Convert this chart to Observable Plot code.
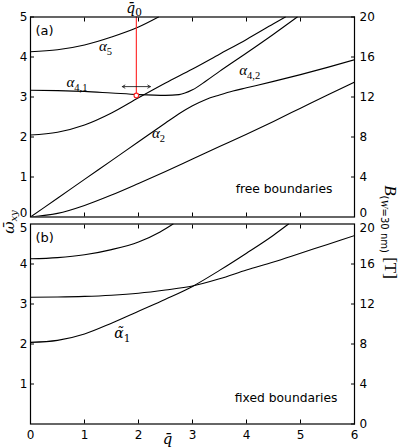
<!DOCTYPE html>
<html><head><meta charset="utf-8">
<script src="https://cdn.jsdelivr.net/npm/d3@7"></script>
<script src="https://cdn.jsdelivr.net/npm/@observablehq/plot@0.6"></script>
<style>
body{margin:0;background:#fff;}
#wrap{position:relative;width:399px;height:448px;overflow:hidden;font-family:"DejaVu Sans";}
#wrap svg{position:absolute;left:0;overflow:visible;}
.lab{position:absolute;white-space:nowrap;font-family:"Liberation Serif";color:#000;line-height:1;}
</style></head><body><div id="wrap"></div>
<script>
// ---- ticks ----
const qTicks = [0,1,2,3,4,5,6];
const wTicksTop = [0,1,2,3,4,5];
const wTicksBottom = [1,2,3,4,5];
const bTicks = [0,4,8,12,16,20];
const teslaPerUnit = 4;

// ---- (a) free boundaries ----
const freeLowQ = [0,0.5,1,1.5,2,2.5,3,3.5,4,4.5,5,5.5,6];
const freeLowW = [0,0.09,0.29,0.55,0.84,1.14,1.45,1.76,2.07,2.39,2.72,3.05,3.37];
const freeA2Q = [0,0.5,1,1.5,2,2.5,2.75,3,3.25,3.5,3.75,4,4.5,5,5.5,6];
const freeA2W = [0,0.47,0.94,1.41,1.88,2.35,2.58,2.78,2.94,3.05,3.15,3.23,3.39,3.56,3.74,3.93];
const freeA3Q = [0,0.5,1,1.5,2,2.5,3,3.5,4,4.5,4.72];
const freeA3W = [2.05,2.12,2.3,2.6,2.98,3.35,3.7,4.07,4.44,4.83,5.0];
const freeA4Q = [0,0.5,1,1.5,2,2.5,2.75,3,3.25,3.5,4,4.5,4.94];
const freeA4W = [3.17,3.16,3.14,3.1,3.06,3.04,3.06,3.18,3.40,3.64,4.1,4.57,5.0];
const freeA5Q = [0,0.5,1,1.5,2,2.37];
const freeA5W = [4.13,4.18,4.3,4.5,4.75,5.0];

// ---- (b) fixed boundaries ----
const fixTopQ = [0,0.5,1,1.5,2,2.4,2.64];
const fixTopW = [4.13,4.16,4.23,4.36,4.55,4.8,5.0];
const fixFlatQ = [0,0.5,1,1.5,2,2.5,3,3.5,4,4.5,5,5.5,6];
const fixFlatW = [3.17,3.175,3.19,3.22,3.27,3.35,3.45,3.63,3.85,4.05,4.27,4.49,4.71];
const fixA1Q = [0,0.5,1,1.5,2,2.5,3,3.5,4,4.5,4.78];
const fixA1W = [2.04,2.09,2.25,2.52,2.82,3.12,3.44,3.84,4.27,4.72,5.0];

// ---- marker ----
const q0 = 1.96, w0 = 3.04;
const arrowEnds = [1.7, 2.22];
const arrowW = 3.26;

const pts = (q, w) => q.map((x, i) => ({q: x, w: w[i]}));
const lineOpts = {x: "q", y: "w", stroke: "#000", strokeWidth: 1.1, curve: "monotone-x", clip: true};

const labelsTop = [
  {q: 1.39, w: 4.26, t: "α|5"},
  {q: 0.86, w: 3.36, t: "α|4,1"},
  {q: 4.06, w: 3.66, t: "α|4,2"},
  {q: 2.37, w: 2.09, t: "α|2"}
];
const labelsBottom = [
  {q: 1.7, w: 2.26, t: "α\u0303|1"}
];

const mathText = (data, font = "Liberation Serif", size = 15) => Plot.text(data, {x: "q", y: "w", text: "t", fontFamily: font, fontStyle: "italic", fontSize: size, lineAnchor: "middle", fill: "#000"});

const style = {fontFamily: "DejaVu Sans", fontSize: "12px", color: "#000", background: "transparent", overflow: "visible"};

const bFmt = d => String(Math.round(d * teslaPerUnit));
const bPos = bTicks.map(b => b / teslaPerUnit);

function axesFor(leftTicks, showX, panel) {
  const edge = panel === "top" ? 0 : 5;
  const leftMain = leftTicks.filter(d => d !== edge);
  const leftEdge = leftTicks.filter(d => d === edge);
  const rightMain = bPos.filter(d => d !== edge);
  const rightEdge = bPos.filter(d => d === edge);
  const edgeDy = panel === "top" ? -4 : 4.5;
  return [
    Plot.frame({stroke: "#000", strokeWidth: 1.2}),
    Plot.axisY(leftMain, {anchor: "left", tickSize: -4, tickPadding: 7, label: null}),
    Plot.axisY(leftEdge, {anchor: "left", tickSize: 0, tickPadding: 3, dy: edgeDy, label: null}),
    Plot.axisY(rightMain, {anchor: "right", tickSize: -4, tickPadding: 9, label: null, tickFormat: bFmt}),
    Plot.axisY(rightEdge, {anchor: "right", tickSize: 0, tickPadding: 5, dy: edgeDy, label: null, tickFormat: bFmt}),
    Plot.axisX(qTicks, {anchor: "bottom", tickSize: -4, tickPadding: 10, label: null, tickFormat: showX ? d => String(d) : () => ""}),
    Plot.axisX(qTicks, {anchor: "top", tickSize: -4, label: null, tickFormat: () => ""})
  ];
}

const topPlot = Plot.plot({
  width: 399, height: 220, marginTop: 16.5, marginBottom: 3.5, marginLeft: 30, marginRight: 45,
  x: {domain: [0, 6]}, y: {domain: [0, 5]}, style,
  marks: [
    Plot.line(pts(freeLowQ, freeLowW), lineOpts),
    Plot.line(pts(freeA2Q, freeA2W), lineOpts),
    Plot.line(pts(freeA3Q, freeA3W), lineOpts),
    Plot.line(pts(freeA4Q, freeA4W), lineOpts),
    Plot.line(pts(freeA5Q, freeA5W), lineOpts),
    Plot.ruleX([q0], {y1: w0, y2: 5, stroke: "#ff2020", strokeWidth: 1.1}),
    Plot.arrow(arrowEnds, {x1: () => q0, x2: d => d, y1: () => arrowW, y2: () => arrowW, headLength: 5, stroke: "#222", strokeWidth: 0.9, inset: 0}),
    Plot.dot([{q: q0, w: w0}], {x: "q", y: "w", r: 2.3, stroke: "#ff2020", fill: "#fff", strokeWidth: 1.1}),
    mathText(labelsTop),
    Plot.text(["q\u0304|0"], {x: q0 - 0.04, frameAnchor: "top", dy: -8.5, text: d => d, fontFamily: "DejaVu Serif", fontStyle: "italic", fontSize: 14, lineAnchor: "middle"}),
    Plot.text(["(a)"], {frameAnchor: "top-left", dx: 5, dy: 14, text: d => d, fontSize: 13, lineAnchor: "middle", textAnchor: "start"}),
    Plot.text(["free boundaries"], {frameAnchor: "bottom-right", dx: -22, dy: -28, text: d => d, fontSize: 12.3, lineAnchor: "middle", textAnchor: "end"}),
    ...axesFor(wTicksTop, false, "top")
  ]
});

const bottomPlot = Plot.plot({
  width: 399, height: 228, marginTop: 3.5, marginBottom: 24.5, marginLeft: 30, marginRight: 45,
  x: {domain: [0, 6]}, y: {domain: [0, 5]}, style,
  marks: [
    Plot.line(pts(fixTopQ, fixTopW), lineOpts),
    Plot.line(pts(fixFlatQ, fixFlatW), lineOpts),
    Plot.line(pts(fixA1Q, fixA1W), lineOpts),
    mathText(labelsBottom, "DejaVu Serif", 14),
    Plot.text(["(b)"], {frameAnchor: "top-left", dx: 5, dy: 14, text: d => d, fontSize: 13, lineAnchor: "middle", textAnchor: "start"}),
    Plot.text(["fixed boundaries"], {frameAnchor: "bottom-right", dx: -17, dy: -25.5, text: d => d, fontSize: 12.3, lineAnchor: "middle", textAnchor: "end"}),
    Plot.text(["q\u0304"], {x: 2.54, frameAnchor: "bottom", dy: 15, text: d => d, fontFamily: "DejaVu Serif", fontStyle: "italic", fontSize: 15, lineAnchor: "middle"}),
    ...axesFor(wTicksBottom, true, "bottom")
  ]
});

function subscriptify(svg) {
  const ns = "http://www.w3.org/2000/svg";
  svg.querySelectorAll("text").forEach(t => {
    const s = t.textContent;
    if (!s.includes("|")) return;
    const [base, sub] = s.split("|");
    t.textContent = "";
    const a = document.createElementNS(ns, "tspan"); a.textContent = base;
    const b = document.createElementNS(ns, "tspan"); b.textContent = sub;
    b.setAttribute("dy", "3.5"); b.setAttribute("font-size", "10.5"); b.setAttribute("font-style", "normal");
    t.append(a, b);
  });
}
subscriptify(topPlot); subscriptify(bottomPlot);

const wrap = document.getElementById("wrap");
topPlot.style.top = "0px";
bottomPlot.style.top = "220px";
wrap.append(topPlot, bottomPlot);

const yl = document.createElement("div");
yl.className = "lab";
yl.style.cssText = "left:9px;top:222px;font-size:15px;font-family:'DejaVu Serif';transform:translate(-50%,-50%) rotate(-90deg);";
yl.innerHTML = "<i>ω\u0304</i><i style='font-size:10px;position:relative;top:3px'>xy</i>";
wrap.append(yl);

const bl = document.createElement("div");
bl.className = "lab";
bl.style.cssText = "left:390px;top:232px;font-size:17px;transform:translate(-50%,-50%) rotate(90deg);";
bl.innerHTML = "<i>B</i><span style='font-size:10px;position:relative;top:4px;font-family:DejaVu Sans'>(<i style=\"font-family:Liberation Serif;font-size:11px\">W</i>=30 nm)</span> [T]";
wrap.append(bl);
</script></body></html>
